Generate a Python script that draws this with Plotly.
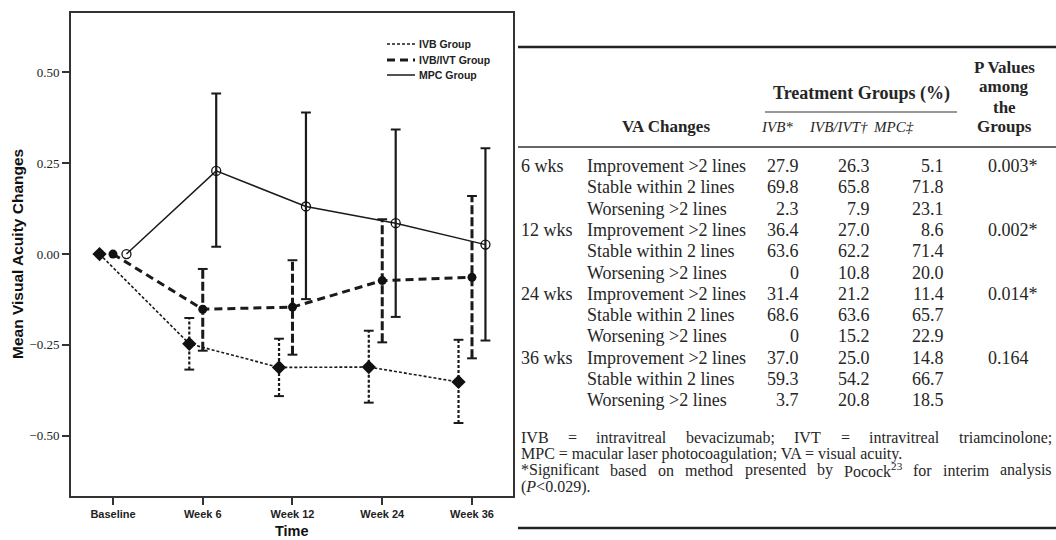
import plotly.graph_objects as go

W, H = 1056, 540

# ---------------- chart data ----------------
timepoints = ["Baseline", "Week 6", "Week 12", "Week 24", "Week 36"]

ivb_mean = [0.0, -0.247, -0.312, -0.311, -0.352]
ivb_upper = [None, -0.176, -0.233, -0.211, -0.236]
ivb_lower = [None, -0.318, -0.391, -0.409, -0.465]

ivbivt_mean = [0.0, -0.152, -0.146, -0.073, -0.064]
ivbivt_upper = [None, -0.041, -0.017, 0.096, 0.160]
ivbivt_lower = [None, -0.266, -0.277, -0.243, -0.287]

mpc_mean = [0.0, 0.229, 0.131, 0.085, 0.026]
mpc_upper = [None, 0.442, 0.390, 0.343, 0.291]
mpc_lower = [None, 0.020, -0.124, -0.173, -0.238]

y_ticks = [-0.50, -0.25, 0.00, 0.25, 0.50]

# ---------------- table data ----------------
tbl_times = ["6 wks", "12 wks", "24 wks", "36 wks"]
tbl_changes = ["Improvement &gt;2 lines", "Stable within 2 lines", "Worsening &gt;2 lines"]
tbl_ivb = ["27.9", "69.8", "2.3", "36.4", "63.6", "0", "31.4", "68.6", "0", "37.0", "59.3", "3.7"]
tbl_ivbivt = ["26.3", "65.8", "7.9", "27.0", "62.2", "10.8", "21.2", "63.6", "15.2", "25.0", "54.2", "20.8"]
tbl_mpc = ["5.1", "71.8", "23.1", "8.6", "71.4", "20.0", "11.4", "65.7", "22.9", "14.8", "66.7", "18.5"]
tbl_p = ["0.003*", "0.002*", "0.014*", "0.164"]

foot_line1 = ["IVB", "=", "intravitreal", "bevacizumab;", "IVT", "=", "intravitreal", "triamcinolone;"]
foot_line2 = "MPC = macular laser photocoagulation; VA = visual acuity."
foot_line3 = ["*Significant", "based", "on", "method", "presented", "by", "Pocock<sup>23</sup>",
              "for", "interim", "analysis"]
foot_line4 = "(<i>P</i>&lt;0.029)."


def px(x):
    return x / W


def py(y):
    return 1 - y / H


INK = "#1a1a1a"
groups = [
    # name, means, upper, lower, x offset, line style, error-bar style, marker
    ("IVB Group", ivb_mean, ivb_upper, ivb_lower, -0.15,
     dict(color=INK, width=1.6, dash="3px,2px"),
     dict(color=INK, width=2.2, dash="3px,2px"),
     dict(symbol="diamond", size=11, color="#111")),
    ("IVB/IVT Group", ivbivt_mean, ivbivt_upper, ivbivt_lower, 0.0,
     dict(color=INK, width=3, dash="8px,5px"),
     dict(color=INK, width=3, dash="9px,3px"),
     dict(symbol="circle", size=9, color="#111")),
    ("MPC Group", mpc_mean, mpc_upper, mpc_lower, 0.15,
     dict(color=INK, width=1.5),
     dict(color=INK, width=2.2),
     dict(symbol="circle-open", size=9, color="#111", line=dict(width=1.3))),
]

fig = go.Figure()

for name, mean, up, lo, off, lstyle, estyle, mstyle in groups:
    xs = [i + off for i in range(len(timepoints))]
    # connecting line
    fig.add_trace(go.Scatter(x=xs, y=mean, mode="lines", name=name, line=lstyle,
                             hoverinfo="skip"))
    # error bars as styled vertical segments with end caps
    bx, by, cx, cy = [], [], [], []
    for x, u, l in zip(xs, up, lo):
        if u is None:
            continue
        bx += [x, x, None]
        by += [l, u, None]
        cx += [x, x]
        cy += [l, u]
    fig.add_trace(go.Scatter(x=bx, y=by, mode="lines", line=estyle, hoverinfo="skip"))
    fig.add_trace(go.Scatter(x=cx, y=cy, mode="markers", hoverinfo="skip",
                             marker=dict(symbol="line-ew", size=7,
                                         line=dict(width=2, color=INK))))
    fig.add_trace(go.Scatter(x=xs, y=mean, mode="markers", marker=mstyle, name=name))

axis_line = dict(showline=True, mirror=True, linecolor="#333", linewidth=2,
                 ticks="outside", ticklen=7, tickwidth=1.5, tickcolor="#333",
                 showgrid=False, zeroline=False, fixedrange=True)

fig.update_xaxes(domain=[px(71), px(513)], range=[-0.468, 4.457],
                 tickvals=list(range(len(timepoints))), ticktext=timepoints,
                 tickfont=dict(family="Liberation Sans", size=11, color="#222", weight="bold"),
                 **axis_line)
fig.update_yaxes(domain=[py(496), py(12.5)], range=[-0.666, 0.665],
                 tickvals=y_ticks, tickformat=".2f",
                 tickfont=dict(family="Liberation Serif", size=13, color="#222"),
                 **axis_line)

annotations = [
    dict(text="<b>Mean Visual Acuity Changes</b>", x=px(18), y=py(254), textangle=-90,
         xanchor="center", yanchor="middle",
         font=dict(family="Liberation Sans", size=15.5, color="#111")),
    dict(text="<b>Time</b>", x=px(292), y=py(530.5), xanchor="center", yanchor="middle",
         borderpad=0, font=dict(family="Liberation Sans", size=14.5, color="#111")),
]
shapes = []

# legend: line sample + label per group
for (name, _, _, _, _, lstyle, _, _), ly in zip(groups, [44, 60, 75]):
    shapes.append(dict(type="line", xref="paper", yref="paper",
                       x0=px(387), x1=px(415), y0=py(ly), y1=py(ly), line=lstyle))
    annotations.append(dict(text="<b>%s</b>" % name, x=px(418), y=py(ly), xanchor="left",
                            yanchor="middle", borderpad=0,
                            font=dict(family="Liberation Sans", size=10.5, color="#222")))

serif = "Liberation Serif"
tcol = "#262626"
FS = 18


def txt(text, x, y, anchor="left", size=FS, **kw):
    annotations.append(dict(text=text, x=px(x), y=py(y), xanchor=anchor, yanchor="middle",
                            borderpad=0, font=dict(family=serif, size=size, color=tcol), **kw))


# header block
for t, y in zip(["P Values", "among", "the", "Groups"], [67, 87, 107, 127]):
    txt("<b>%s</b>" % t, 1004, y, "center", size=17)
txt("<b>Treatment Groups (%)</b>", 861, 94, "center")
txt("<b>VA Changes</b>", 666, 127, "center", size=17)
txt("<i>IVB*</i>", 777, 127, "center", size=15)
txt("<i>IVB/IVT†</i>", 838, 127, "center", size=15)
txt("<i>MPC‡</i>", 893, 127, "center", size=15)

# body rows
row0, pitch = 166, 21.3
for k in range(len(tbl_ivb)):
    y = row0 + k * pitch
    g, c = divmod(k, len(tbl_changes))
    if c == 0:
        txt(tbl_times[g], 520, y, "left")
        txt(tbl_p[g], 987, y, "left")
    txt(tbl_changes[c], 586, y, "left")
    txt(tbl_ivb[k], 800, y, "right")
    txt(tbl_ivbivt[k], 871, y, "right")
    txt(tbl_mpc[k], 945, y, "right")

# footnotes (lines 1 and 3 are justified across the table width)
TIMES = {c: w for c, w in zip("abcdefghijklmnopqrstuvwxyz",
                              [444, 500, 444, 500, 444, 333, 500, 500, 278, 278, 500, 278, 778,
                               500, 500, 500, 500, 333, 389, 278, 500, 500, 722, 500, 500, 444])}
TIMES.update({c: w for c, w in zip("ABCDEFGHIJKLMNOPQRSTUVWXYZ",
                                   [722, 667, 667, 722, 611, 556, 722, 722, 333, 389, 722, 611, 889,
                                    722, 722, 556, 722, 667, 556, 611, 722, 722, 944, 722, 722, 611])})
TIMES.update({"=": 564, ";": 278, "*": 500, ".": 250, "2": 330, "3": 330})


def word_width(w, size):
    plain = w.replace("<sup>", "").replace("</sup>", "")
    return sum(TIMES.get(ch, 500) for ch in plain) * size / 1000.0


FF = 16


def justified(words, y, left=520, right=1051):
    widths = [word_width(w, FF) for w in words]
    gap = (right - left - sum(widths)) / (len(words) - 1)
    x = left
    for w, wd in zip(words, widths):
        txt(w, x, y, "left", size=FF)
        x += wd + gap


justified(foot_line1, 437)
txt(foot_line2, 520, 453.7, "left", size=FF)
justified(foot_line3, 470.4)
txt(foot_line4, 520, 487, "left", size=FF)

shapes += [
    dict(type="line", xref="paper", yref="paper", x0=px(518), x1=px(1056), y0=py(47), y1=py(47),
         line=dict(color="#222", width=2.5)),
    dict(type="line", xref="paper", yref="paper", x0=px(765), x1=px(957), y0=py(112), y1=py(112),
         line=dict(color="#333", width=1.2)),
    dict(type="line", xref="paper", yref="paper", x0=px(518), x1=px(1056), y0=py(147), y1=py(147),
         line=dict(color="#333", width=1.5)),
    dict(type="line", xref="paper", yref="paper", x0=px(518), x1=px(1056), y0=py(528), y1=py(528),
         line=dict(color="#222", width=2.5)),
]

for a in annotations:
    a.setdefault("xref", "paper")
    a.setdefault("yref", "paper")
    a.setdefault("showarrow", False)

fig.update_layout(
    width=W, height=H,
    margin=dict(l=0, r=0, t=0, b=0),
    paper_bgcolor="white", plot_bgcolor="white",
    annotations=annotations, shapes=shapes,
    showlegend=False,
)

fig.write_html("out.html")
